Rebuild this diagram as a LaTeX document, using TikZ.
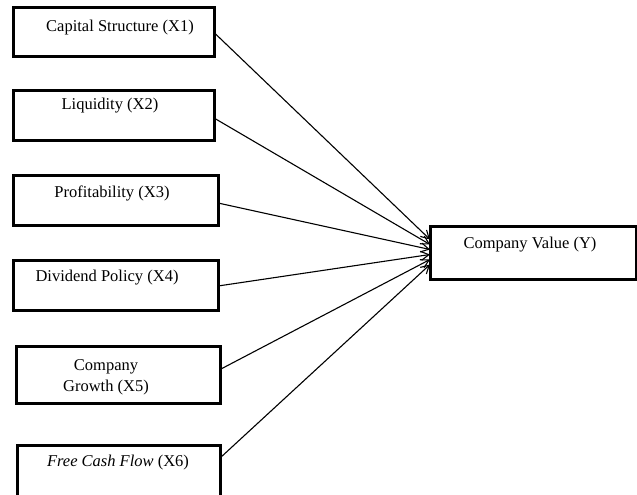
\documentclass[tikz,border=0pt]{standalone}
\usepackage{fontspec}
\setmainfont{Liberation Serif}
\usetikzlibrary{arrows.meta}
\begin{document}
\begin{tikzpicture}[x=1pt,y=-1pt,
  box/.style={draw=black,line width=3pt,inner sep=0pt,outer sep=0pt,fill=white},
  lbl/.style={font=\fontsize{16.5}{20}\selectfont,inner sep=0pt,align=center},
  conn/.style={line width=1.1pt,-{Straight Barb[length=8pt,width=9pt]}}]
\useasboundingbox (0,0) rectangle (637,495);
% boxes (centre, size)
\node[box,minimum width=201pt,minimum height=49pt] (b1) at (113.5,32.5) {};
\node[box,minimum width=201pt,minimum height=50pt] (b2) at (113.5,115) {};
\node[box,minimum width=205pt,minimum height=50pt] (b3) at (115.5,200) {};
\node[box,minimum width=205pt,minimum height=50pt] (b4) at (115.5,285) {};
\node[box,minimum width=204pt,minimum height=57pt] (b5) at (118,374.5) {};
\node[box,minimum width=203pt,minimum height=60pt] (b6) at (118.5,475) {};
\node[box,minimum width=206pt,minimum height=53pt] (y) at (533,252.5) {};
% texts
\node[lbl] (t1) at (120,28) {Capital Structure (X1)};
\node[lbl] (t2) at (110,106) {Liquidity (X2)};
\node[lbl] (t3) at (112,193) {Profitability (X3)};
\node[lbl] (t4) at (107,278) {Dividend Policy (X4)};
\node[lbl] (t5) at (106,377) {Company\\[1pt]Growth (X5)};
\node[lbl] (t6) at (118,463) {\textit{Free Cash Flow} (X6)};
\node[lbl] (ty) at (530,245) {Company Value (Y)};
% connectors
\draw[conn] (b1.east) -- ([yshift=13pt]y.west);
\draw[conn] ([yshift=-3pt]b2.east) -- ([yshift=8pt]y.west);
\draw[conn] ([yshift=-3pt]b3.east) -- ([yshift=3pt]y.west);
\draw[conn] ([yshift=-1pt]b4.east) -- ([yshift=-2pt]y.west);
\draw[conn] ([yshift=5pt]b5.east) -- ([yshift=-7pt]y.west);
\draw[conn] ([yshift=-13pt]b6.north east) -- ([yshift=-12pt]y.west);
\end{tikzpicture}
\end{document}
